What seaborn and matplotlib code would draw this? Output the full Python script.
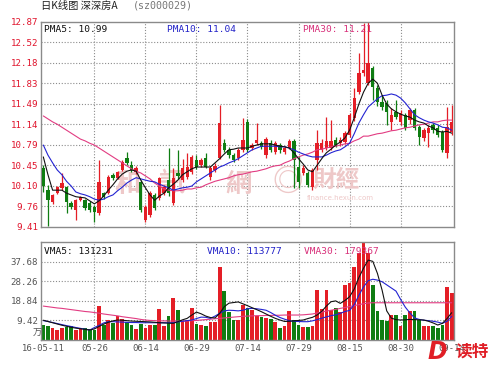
import numpy as np
import matplotlib
matplotlib.use("Agg")
import matplotlib.pyplot as plt
import seaborn as sns

# ---------------- data ----------------
opens = [10.40, 10.03, 9.83, 9.99, 10.07, 10.08, 9.81, 9.70, 9.86, 9.86, 9.81, 9.75, 9.65, 9.98, 9.98,
         10.29, 10.24, 10.37, 10.57, 10.45, 10.34, 10.17, 9.53, 9.61, 9.95, 9.90, 9.98, 10.20, 9.81,
         10.32, 10.20, 10.25, 10.34, 10.54, 10.45, 10.57, 10.25, 10.37, 10.57, 10.82, 10.71, 10.62,
         10.57, 10.71, 11.18, 10.74, 10.82, 10.82, 10.62, 10.82, 10.67, 10.79, 10.67, 10.74, 10.86,
         10.42, 10.32, 10.32, 10.08, 10.54, 10.71, 10.74, 10.74, 10.88, 10.82, 10.84, 10.96, 11.25,
         11.68, 12.00, 11.83, 12.09, 11.75, 11.52, 11.50, 11.18, 11.35, 11.18, 11.30, 11.21, 11.38,
         11.09, 10.91, 11.00, 11.13, 11.08, 11.01, 10.66, 11.01]
closes = [10.10, 9.86, 9.95, 10.08, 10.15, 9.83, 9.75, 9.86, 9.91, 9.73, 9.70, 9.66, 10.17, 9.92, 10.25,
          10.24, 10.34, 10.50, 10.49, 10.37, 10.40, 9.70, 9.75, 9.98, 9.73, 10.23, 10.08, 9.98, 10.23,
          10.27, 10.40, 10.42, 10.59, 10.42, 10.54, 10.42, 10.40, 10.44, 11.16, 10.71, 10.62, 10.54,
          10.71, 10.88, 10.71, 10.79, 10.88, 10.76, 10.89, 10.71, 10.82, 10.71, 10.74, 10.86, 10.54,
          10.17, 10.40, 10.12, 10.37, 10.82, 10.82, 10.86, 10.86, 10.79, 10.88, 10.99, 11.30, 11.58,
          12.00, 12.05, 12.17, 11.77, 11.52, 11.43, 11.35, 11.30, 11.26, 11.33, 11.08, 11.38, 11.08,
          10.93, 11.04, 11.08, 11.04, 10.96, 10.71, 11.09, 11.18]
highs = [10.45, 10.12, 9.97, 10.10, 10.32, 10.10, 9.84, 9.88, 9.94, 9.88, 9.84, 9.78, 10.54, 10.00, 10.28,
         10.32, 10.36, 10.53, 10.67, 10.52, 10.43, 10.20, 9.78, 10.02, 9.98, 10.26, 10.12, 10.74, 10.40,
         10.71, 10.55, 10.65, 10.62, 10.62, 10.58, 10.66, 10.43, 10.48, 11.46, 10.89, 10.76, 10.66,
         10.74, 11.25, 11.22, 10.82, 11.16, 10.85, 10.92, 10.88, 10.85, 10.82, 10.77, 10.89, 10.90,
         10.59, 10.45, 10.35, 10.40, 11.04, 10.90, 11.26, 11.21, 10.92, 10.92, 11.02, 11.33, 11.75,
         12.34, 12.85, 12.87, 12.12, 11.80, 11.63, 11.55, 11.41, 11.55, 11.38, 11.33, 11.42, 11.42,
         11.12, 11.08, 11.12, 11.16, 11.12, 11.04, 11.43, 11.46]
lows = [10.00, 9.43, 9.80, 9.96, 10.04, 9.65, 9.72, 9.53, 9.84, 9.70, 9.66, 9.50, 9.62, 9.88, 9.96,
        10.20, 10.22, 10.35, 10.46, 10.34, 10.31, 9.66, 9.49, 9.58, 9.70, 9.86, 9.95, 9.94, 9.78,
        10.22, 10.17, 10.22, 10.30, 10.38, 10.42, 10.40, 10.20, 10.34, 10.55, 10.68, 10.58, 10.50,
        10.53, 10.68, 10.68, 10.70, 10.79, 10.72, 10.58, 10.68, 10.64, 10.66, 10.64, 10.72, 10.07,
        10.07, 10.28, 10.08, 10.04, 10.37, 10.68, 10.71, 10.70, 10.76, 10.78, 10.80, 10.93, 11.20,
        11.65, 11.95, 11.80, 11.55, 11.45, 11.38, 11.13, 11.04, 11.22, 11.12, 11.05, 11.15, 11.04,
        10.79, 10.86, 10.76, 11.00, 10.93, 10.68, 10.57, 10.96]
volumes = [7.0, 6.8, 5.9, 4.8, 6.0, 6.3, 6.8, 4.6, 5.8, 5.9, 5.2, 5.0, 16.4, 7.2, 9.6, 8.2, 11.5, 9.9,
           8.7, 7.2, 5.5, 7.5, 5.8, 7.2, 7.2, 14.9, 6.5, 11.7, 20.1, 14.4, 9.0, 9.5, 15.4, 7.5, 7.0,
           6.5, 8.5, 8.5, 35.2, 23.7, 13.5, 9.6, 9.6, 16.8, 15.2, 14.4, 11.5, 11.2, 10.4, 9.9, 8.8,
           5.9, 6.7, 14.1, 9.6, 7.2, 6.2, 6.4, 6.7, 24.0, 14.7, 24.0, 14.4, 15.2, 13.6, 26.4, 27.2,
           35.2, 41.7, 46.8, 41.7, 26.4, 14.1, 9.6, 9.0, 12.0, 12.0, 6.7, 12.0, 14.1, 14.1, 9.6, 6.7,
           6.7, 6.7, 6.0, 7.2, 25.6, 22.7]
pma5 = [10.59, 10.29, 10.03, 10.03, 10.03, 9.98, 9.95, 9.92, 9.91, 9.90, 9.85, 9.80, 9.85, 9.93, 10.03,
        10.12, 10.22, 10.30, 10.35, 10.37, 10.35, 10.20, 10.07, 9.95, 9.86, 9.93, 9.98, 10.07, 10.13,
        10.20, 10.29, 10.34, 10.39, 10.42, 10.42, 10.42, 10.42, 10.49, 10.56, 10.64, 10.71, 10.72,
        10.74, 10.74, 10.74, 10.77, 10.79, 10.81, 10.81, 10.81, 10.79, 10.77, 10.76, 10.74, 10.66,
        10.56, 10.47, 10.37, 10.34, 10.45, 10.56, 10.66, 10.72, 10.79, 10.84, 10.91, 11.04, 11.25,
        11.48, 11.68, 11.83, 11.90, 11.83, 11.63, 11.48, 11.40, 11.35, 11.31, 11.28, 11.26, 11.21,
        11.18, 11.16, 11.11, 11.08, 11.02, 11.01, 11.02, 10.99]
pma10 = [10.79, 10.62, 10.49, 10.37, 10.29, 10.18, 10.10, 10.00, 9.97, 9.95, 9.92, 9.88, 9.86, 9.88, 9.92,
         9.95, 10.02, 10.08, 10.15, 10.20, 10.24, 10.22, 10.20, 10.18, 10.17, 10.13, 10.10, 10.07, 10.03,
         10.05, 10.07, 10.08, 10.10, 10.17, 10.22, 10.27, 10.32, 10.37, 10.42, 10.45, 10.49, 10.52,
         10.56, 10.61, 10.66, 10.71, 10.74, 10.77, 10.77, 10.77, 10.77, 10.76, 10.76, 10.74, 10.71,
         10.67, 10.64, 10.61, 10.59, 10.59, 10.59, 10.62, 10.66, 10.69, 10.71, 10.76, 10.82, 10.98,
         11.16, 11.30, 11.43, 11.50, 11.57, 11.62, 11.63, 11.65, 11.63, 11.58, 11.50, 11.40, 11.30,
         11.25, 11.21, 11.18, 11.16, 11.13, 11.09, 11.08, 11.04]
pma30 = [11.28, 11.23, 11.18, 11.14, 11.09, 11.04, 10.99, 10.94, 10.89, 10.86, 10.82, 10.79, 10.74, 10.69,
         10.64, 10.59, 10.54, 10.49, 10.44, 10.39, 10.35, 10.32, 10.27, 10.22, 10.15, 10.10, 10.05, 10.03,
         10.02, 10.02, 10.03, 10.05, 10.05, 10.07, 10.08, 10.12, 10.15, 10.18, 10.20, 10.22, 10.24,
         10.27, 10.29, 10.30, 10.32, 10.34, 10.35, 10.37, 10.39, 10.42, 10.44, 10.45, 10.49, 10.52,
         10.56, 10.59, 10.62, 10.64, 10.67, 10.71, 10.72, 10.74, 10.76, 10.77, 10.79, 10.81, 10.82,
         10.86, 10.89, 10.94, 10.94, 10.96, 10.98, 10.99, 11.01, 11.03, 11.04, 11.06, 11.08, 11.09,
         11.11, 11.13, 11.14, 11.16, 11.18, 11.18, 11.20, 11.21, 11.21]
vma5 = [9.5, 8.9, 8.3, 7.7, 7.1, 6.6, 6.1, 5.7, 5.4, 5.1, 4.8, 5.3, 6.5, 7.6, 8.5, 9.2, 9.6, 9.5, 9.3,
        9.1, 9.0, 8.9, 8.8, 8.7, 8.5, 8.3, 8.2, 8.1, 8.0, 8.8, 9.7, 10.4, 12.0, 13.4, 12.6, 11.5, 10.8,
        10.6, 12.8, 16.0, 17.7, 18.0, 18.3, 17.4, 16.5, 15.5, 14.6, 13.6, 12.5, 11.4, 10.4, 9.6, 8.9,
        9.0, 9.2, 9.4, 9.6, 10.3, 10.9, 12.0, 13.8, 16.3, 18.4, 18.8, 17.6, 19.0, 20.8, 24.5, 30.0,
        34.5, 38.4, 37.8, 32.0, 24.0, 14.0, 10.5, 9.8, 9.6, 9.7, 9.9, 9.8, 9.7, 9.6, 9.0, 8.2, 7.2,
        8.0, 10.3, 13.1]
vma10 = [9.3, 8.9, 8.4, 7.9, 7.4, 6.9, 6.5, 6.0, 5.6, 5.2, 4.8, 6.0, 7.0, 8.2, 8.8, 8.8, 8.7, 8.6,
         8.5, 8.4, 8.4, 8.3, 8.3, 8.3, 8.3, 8.3, 8.3, 8.3, 8.3, 8.7, 9.0, 9.3, 9.6, 10.3, 11.0, 10.9,
         10.4, 11.5, 12.8, 14.0, 14.3, 14.2, 14.0, 14.3, 15.0, 15.2, 15.0, 14.7, 14.3, 13.2, 11.9, 10.8,
         10.0, 9.3, 9.0, 8.9, 8.8, 8.8, 9.2, 9.8, 10.5, 11.1, 11.7, 12.1, 12.8, 13.7, 14.2, 17.0, 21.5,
         25.5, 28.5, 29.2, 28.8, 28.0, 26.5, 25.0, 23.5, 19.5, 15.8, 13.0, 10.6, 9.9, 9.5, 9.3, 9.0,
         8.6, 8.0, 9.0, 11.4]
vma30 = [16.3, 16.0, 15.7, 15.4, 15.2, 14.9, 14.6, 14.3, 14.0, 13.7, 13.5, 13.2, 12.9, 12.5, 12.2, 11.9,
         11.6, 11.2, 10.9, 10.6, 10.3, 9.9, 9.6, 9.4, 9.3, 9.2, 9.2, 9.1, 9.1, 9.1, 9.1, 9.2, 9.3, 9.4,
         9.6, 9.8, 10.0, 10.2, 10.4, 10.6, 10.8, 11.0, 11.2, 11.4, 11.5, 11.6, 11.7, 11.7, 11.8, 11.8,
         11.9, 11.9, 12.0, 12.0, 12.0, 12.0, 12.1, 12.3, 12.5, 13.0, 13.4, 13.9, 14.3, 14.7, 15.2, 15.6,
         16.1, 16.5, 17.0, 17.4, 17.8, 17.9, 17.9, 17.9, 17.9, 17.9, 17.9, 17.9, 17.9, 17.9, 17.9, 17.9,
         17.9, 17.9, 17.9, 17.9, 17.9, 17.9, 17.9]
price_ticks = ["9.41", "9.76", "10.10", "10.45", "10.79", "11.14", "11.49", "11.83", "12.18", "12.52", "12.87"]
vol_ticks = ["9.42", "18.84", "28.26", "37.68"]
date_labels = ["16-05-11", "05-26", "06-14", "06-29", "07-14", "07-29", "08-15", "08-30", "09-14"]
date_pos = [0, 11, 22, 33, 44, 55, 66, 77, 88]

# ---------------- figure ----------------
sns.set_theme(style="white")
plt.rcParams['font.family'] = ['DejaVu Sans Mono', 'Noto Sans CJK SC']
W, H = 500, 368
fig = plt.figure(figsize=(W / 100, H / 100), dpi=100)
fig.patch.set_facecolor('white')


def rect(l, t, r, b):
    return [l / W, 1 - b / H, (r - l) / W, (b - t) / H]


def fx(px):
    return px / W


def fy(py):
    return 1 - py / H


ax1 = fig.add_axes(rect(41, 21.5, 454, 227))
ax2 = fig.add_axes(rect(41, 242, 454, 340))

RED = '#e41e26'
GREEN = '#0f7d12'
idx = np.arange(len(closes))
o = np.array(opens); c = np.array(closes); hi = np.array(highs); lo = np.array(lows)
up = c >= o
cols = np.where(up, RED, GREEN)

for ax in (ax1, ax2):
    ax.set_facecolor('white')
    ax.set_xlim(-0.5, len(closes) - 0.5)
    for s in ax.spines.values():
        s.set_color('#8a8a8a')
        s.set_linewidth(1.0)
    ax.grid(False)
    for g in date_pos[1:-1]:
        ax.axvline(g, color='#8c8c8c', lw=0.8, ls=(0, (1, 1.6)), zorder=0.5)

# price panel
pmin, pmax = float(price_ticks[0]), float(price_ticks[-1])
ax1.set_ylim(pmin, pmax)
ptv = np.linspace(pmin, pmax, len(price_ticks))
for v in ptv[1:-1]:
    ax1.axhline(v, color='#8c8c8c', lw=0.8, ls=(0, (1, 1.6)), zorder=0.5)
ax1.set_yticks(ptv)
ax1.set_yticklabels(price_ticks)
ax1.set_xticks([])
ax1.tick_params(axis='y', length=0, pad=2, labelsize=6.6, labelcolor='#e0142c')

# watermark
wm = dict(color='#eec8c8', zorder=1, transform=fig.transFigure, ha='center', va='center',
          family=['Noto Sans CJK TC', 'DejaVu Sans'], fontweight='bold')
ax1.text(fx(128), fy(184), "和", fontsize=19, **wm)
ax1.text(fx(172), fy(184), "訊", fontsize=19, **wm)
ax1.text(fx(238), fy(184), "網", fontsize=19, **wm)
ax1.text(fx(288), fy(182), "◎", fontsize=22, **wm)
ax1.text(fx(336), fy(180), "財經", fontsize=17, **wm)
ax1.text(fx(340), fy(198), "finance.hexun.com", fontsize=5, color='#eec8c8', zorder=1,
         transform=fig.transFigure, ha='center', va='center', family='DejaVu Sans')

ax1.vlines(idx, lo, hi, colors=cols, lw=0.9, zorder=2)
body = np.maximum(np.abs(c - o), 0.012)
ax1.bar(idx, body, bottom=np.minimum(o, c), width=0.72, color=cols, linewidth=0, zorder=3)

sns.lineplot(x=idx, y=pma30, ax=ax1, color='#e23c82', lw=0.8, zorder=4, legend=False)
sns.lineplot(x=idx, y=pma10, ax=ax1, color='#2323d2', lw=0.8, zorder=4, legend=False)
sns.lineplot(x=idx, y=pma5, ax=ax1, color='#111111', lw=0.8, zorder=4, legend=False)
ax1.set_ylim(pmin, pmax)
ax1.set_xlim(-0.5, len(closes) - 0.5)
ax1.set_xlabel(''); ax1.set_ylabel('')

# volume panel
ax2.set_ylim(0, 47.1)
vtv = [float(t) for t in vol_ticks]
for v in vtv:
    ax2.axhline(v, color='#8c8c8c', lw=0.8, ls=(0, (1, 1.6)), zorder=0.5)
ax2.bar(idx, volumes, width=0.8, color=cols, linewidth=0, zorder=2)
sns.lineplot(x=idx, y=vma30, ax=ax2, color='#e23c82', lw=0.8, zorder=4, legend=False)
sns.lineplot(x=idx, y=vma10, ax=ax2, color='#2323d2', lw=0.8, zorder=4, legend=False)
sns.lineplot(x=idx, y=vma5, ax=ax2, color='#111111', lw=0.8, zorder=4, legend=False)
ax2.set_ylim(0, 47.1)
ax2.set_xlim(-0.5, len(closes) - 0.5)
ax2.set_yticks(vtv)
ax2.set_yticklabels(vol_ticks)
ax2.set_xticks(date_pos)
ax2.set_xticklabels(date_labels)
ax2.tick_params(axis='y', length=0, pad=2, labelsize=6.6, labelcolor='#555555')
ax2.tick_params(axis='x', length=0, pad=3, labelsize=6.4, labelcolor='#555555')
ax2.set_xlabel(''); ax2.set_ylabel('')
fig.text(fx(37), fy(333), "万", fontsize=6.5, color='#555555', ha='center', va='center',
         family=['Noto Sans CJK SC', 'DejaVu Sans'])

# header and legends
fig.text(fx(41), fy(6), "日K线图 深深房A", fontsize=7.4, color='#222222', va='center', ha='left',
         family=['Noto Sans CJK SC', 'DejaVu Sans'])
fig.text(fx(133), fy(6), "(sz000029)", fontsize=7.2, color='#777777', va='center', ha='left',
         family='DejaVu Sans Mono')
leg = dict(fontsize=6.8, va='center', ha='left', family='DejaVu Sans Mono')
fig.text(fx(44), fy(30), "PMA5: 10.99", color='#111111', **leg)
fig.text(fx(167), fy(30), "PMA10: 11.04", color='#2323c8', **leg)
fig.text(fx(303), fy(30), "PMA30: 11.21", color='#d8307a', **leg)
fig.text(fx(44), fy(252), "VMA5: 131231", color='#111111', **leg)
fig.text(fx(207), fy(252), "VMA10: 113777", color='#2323c8', **leg)
fig.text(fx(304), fy(252), "VMA30: 179367", color='#d8307a', **leg)

# logo
fig.text(fx(437), fy(352), "D", fontsize=17, color='#e01e26', fontweight='bold', style='italic',
         ha='center', va='center', family='DejaVu Sans')
fig.text(fx(472), fy(352), "读特", fontsize=12, color='#e01e26', fontweight='bold',
         ha='center', va='center', family=['Noto Sans CJK SC', 'DejaVu Sans'])

fig.savefig("out.png", dpi=100, facecolor='white')
